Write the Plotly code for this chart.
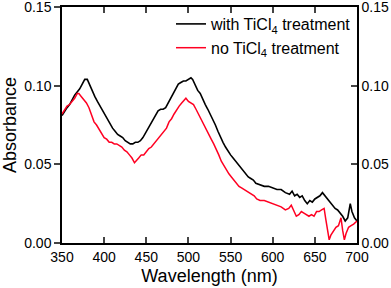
import plotly.graph_objects as go

wl_with = [350,353,356,359,362,365,368,371,374,377,380,383,386,389,392,395,398,401,404,407,410,413,416,419,422,425,428,431,434,437,440,443,446,449,452,455,458,461,464,467,470,473,476,479,482,485,488,491,494,497,500,503,505,508,511,514,517,520,523,526,529,532,535,538,541,544,547,550,553,556,559,562,565,568,571,574,577,580,585,590,595,600,605,610,615,620,623,626,629,632,635,638,641,644,647,650,653,656,659,662,665,668,671,674,677,680,683,686,689,692,694,697,700]
abs_with = [0.081,0.084,0.086,0.088,0.091,0.094,0.096,0.098,0.101,0.104,0.104,0.100,0.096,0.093,0.090,0.087,0.084,0.081,0.078,0.076,0.073,0.071,0.069,0.068,0.067,0.065,0.064,0.063,0.063,0.064,0.064,0.065,0.067,0.070,0.072,0.075,0.078,0.081,0.084,0.085,0.085,0.086,0.089,0.092,0.096,0.099,0.101,0.102,0.103,0.103,0.104,0.105,0.104,0.100,0.097,0.095,0.091,0.088,0.085,0.082,0.078,0.075,0.071,0.068,0.064,0.061,0.058,0.056,0.054,0.052,0.050,0.048,0.046,0.044,0.042,0.041,0.040,0.038,0.037,0.036,0.036,0.035,0.034,0.034,0.032,0.031,0.033,0.030,0.031,0.029,0.030,0.027,0.025,0.027,0.026,0.028,0.029,0.030,0.032,0.030,0.028,0.026,0.024,0.022,0.021,0.019,0.017,0.014,0.016,0.025,0.020,0.016,0.014]

wl_no = [350,353,356,359,362,365,368,370,373,376,379,382,385,388,391,394,397,400,403,406,409,412,415,418,421,424,427,430,433,436,438,441,444,447,450,453,456,459,462,465,468,471,474,477,480,483,486,489,492,495,497,500,503,506,509,512,515,518,521,524,527,530,533,536,539,542,545,548,551,554,557,560,563,566,569,572,575,578,581,585,590,595,600,605,610,615,619,622,625,628,631,634,637,640,643,646,649,652,655,658,661,663,665,667,669,672,675,678,681,683,685,687,690,693,696,700]
abs_no = [0.082,0.085,0.087,0.088,0.090,0.092,0.095,0.095,0.093,0.091,0.089,0.086,0.081,0.077,0.075,0.072,0.070,0.067,0.066,0.064,0.064,0.063,0.063,0.062,0.061,0.059,0.058,0.056,0.054,0.051,0.052,0.054,0.056,0.056,0.058,0.060,0.061,0.063,0.065,0.067,0.069,0.071,0.073,0.077,0.079,0.082,0.085,0.087,0.089,0.091,0.092,0.090,0.089,0.088,0.085,0.082,0.079,0.076,0.072,0.069,0.066,0.063,0.060,0.056,0.052,0.049,0.046,0.044,0.042,0.040,0.038,0.036,0.035,0.034,0.033,0.032,0.031,0.030,0.028,0.027,0.027,0.026,0.025,0.024,0.023,0.021,0.022,0.024,0.020,0.017,0.018,0.020,0.019,0.018,0.017,0.018,0.017,0.020,0.020,0.021,0.022,0.015,0.008,0.002,0.005,0.008,0.010,0.011,0.016,0.008,0.002,0.006,0.010,0.011,0.012,0.014]

x_ticks = [350, 400, 450, 500, 550, 600, 650, 700]
y_ticks = [0.00, 0.05, 0.10, 0.15]
y_tick_labels = ["0.00", "0.05", "0.10", "0.15"]

font_family = "Arial, Liberation Sans, sans-serif"

fig = go.Figure()
fig.add_trace(go.Scatter(x=wl_with, y=abs_with, mode="lines", name="with TiCl<sub>4</sub> treatment",
                         line=dict(color="black", width=1.6)))
fig.add_trace(go.Scatter(x=wl_no, y=abs_no, mode="lines", name="no TiCl<sub>4</sub> treatment",
                         line=dict(color="#ff0022", width=1.5)))
# empty helper trace so the right-hand axis is drawn
fig.add_trace(go.Scatter(x=[], y=[], yaxis="y2", showlegend=False, hoverinfo="skip"))

fig.update_layout(
    width=391, height=288,
    margin=dict(l=62, r=34, t=7, b=45, autoexpand=False),
    plot_bgcolor="white", paper_bgcolor="white",
    font=dict(family=font_family, color="black", size=14),
    showlegend=True,
    legend=dict(x=1.0, y=1.0, xanchor="right", yanchor="top",
                bgcolor="rgba(0,0,0,0)", font=dict(size=16), tracegroupgap=0,
                itemwidth=30),
    xaxis=dict(range=[350, 700], tickvals=x_ticks, ticks="inside", ticklen=6, tickwidth=1.5,
               showline=True, linecolor="black", linewidth=1.5, mirror="ticks",
               showgrid=False, zeroline=False, ticklabeloverflow="allow",
               title=dict(text="Wavelength (nm)", font=dict(size=18), standoff=6),
               tickfont=dict(size=14)),
    yaxis=dict(range=[0, 0.15], tickvals=y_ticks, ticktext=y_tick_labels, ticks="outside", ticklen=6,
               tickwidth=1.5, showline=True, linecolor="black", linewidth=1.5,
               showgrid=False, zeroline=False, ticklabeloverflow="allow",
               title=dict(text="Absorbance", font=dict(size=18), standoff=6),
               tickfont=dict(size=14)),
    yaxis2=dict(range=[0, 0.15], tickvals=y_ticks, ticktext=y_tick_labels, ticks="inside", ticklen=6,
                tickwidth=1.5, showline=True, linecolor="black", linewidth=1.5,
                overlaying="y", side="right", anchor="x", showgrid=False, zeroline=False,
                ticklabeloverflow="allow", tickfont=dict(size=14)),
)

fig.write_html("out.html", config={"displayModeBar": False},
               post_script="document.body.style.margin='0';")
